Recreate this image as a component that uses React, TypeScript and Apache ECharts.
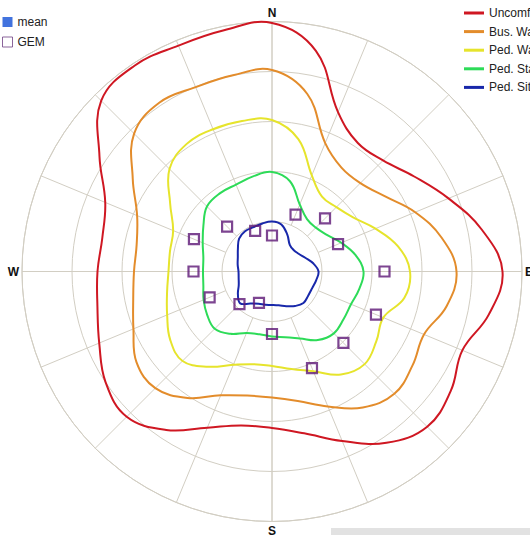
import React, { useEffect, useRef } from 'react';
import * as echarts from 'echarts';

// Directions (degrees clockwise from North) at which the contours were read
const ANGLES = [
  0, 11.25, 22.5, 33.75, 45, 56.25, 67.5, 78.75,
  90, 101.25, 112.5, 123.75, 135, 146.25, 157.5, 168.75,
  180, 191.25, 202.5, 213.75, 225, 236.25, 247.5, 258.75,
  270, 281.25, 292.5, 303.75, 315, 326.25, 337.5, 348.75,
];

const UNCOMFORTABLE = [
  4.97, 4.5, 3.45, 3.09, 3.14, 3.42, 3.82, 4.28,
  4.61, 4.42, 4.12, 4.3, 4.39, 4.12, 3.67, 3.3,
  3.13, 3.14, 3.38, 3.81, 4.11, 4.0, 3.74, 3.56,
  3.49, 3.46, 3.61, 4.15, 4.83, 4.95, 4.89, 4.92,
];
const BUS_WALKING = [
  4.03, 3.62, 2.78, 2.5, 2.5, 2.71, 3.1, 3.46,
  3.69, 3.56, 3.29, 3.38, 3.46, 3.27, 2.92, 2.64,
  2.52, 2.53, 2.68, 3.04, 3.3, 3.26, 3.0, 2.83,
  2.76, 2.76, 2.92, 3.35, 3.9, 4.06, 3.99, 4.0,
];
const PED_WALKING = [
  3.03, 2.7, 2.08, 1.8, 1.82, 1.95, 2.24, 2.57,
  2.76, 2.7, 2.41, 2.51, 2.62, 2.48, 2.16, 1.99,
  1.89, 1.89, 2.02, 2.29, 2.53, 2.45, 2.27, 2.14,
  2.07, 2.08, 2.14, 2.45, 2.9, 3.07, 3.08, 3.07,
];
const PED_STANDING = [
  1.99, 1.84, 1.45, 1.26, 1.24, 1.32, 1.5, 1.7,
  1.83, 1.78, 1.71, 1.72, 1.75, 1.65, 1.45, 1.34,
  1.3, 1.28, 1.33, 1.5, 1.62, 1.56, 1.48, 1.4,
  1.38, 1.4, 1.5, 1.65, 1.84, 1.88, 1.88, 1.94,
];
const PED_SITTING = [
  1.0, 0.96, 0.8, 0.64, 0.61, 0.64, 0.72, 0.84,
  0.93, 0.9, 0.87, 0.87, 0.89, 0.83, 0.75, 0.69,
  0.67, 0.68, 0.7, 0.77, 0.9, 0.82, 0.72, 0.68,
  0.67, 0.7, 0.74, 0.82, 0.93, 0.97, 0.96, 0.98,
];

const GEM_ANGLES = [
  0, 22.5, 45, 67.5, 90, 112.5, 135, 157.5,
  180, 202.5, 225, 247.5, 270, 292.5, 315, 337.5,
];
const GEM_RADII = [
  0.72, 1.23, 1.5, 1.43, 2.25, 2.25, 2.02, 2.09,
  1.25, 0.68, 0.92, 1.35, 1.57, 1.69, 1.27, 0.88,
];

const DIRECTION_LABELS: Record<number, string> = { 0: 'N', 90: 'E', 180: 'S', 270: 'W' };

const CONTOURS = [
  { name: 'Uncomfortable', values: UNCOMFORTABLE, color: '#cf1722' },
  { name: 'Bus. Walking', values: BUS_WALKING, color: '#e38c2b' },
  { name: 'Ped. Walking', values: PED_WALKING, color: '#e6e42c' },
  { name: 'Ped. Standing', values: PED_STANDING, color: '#2ddb58' },
  { name: 'Ped. Sitting', values: PED_SITTING, color: '#1828aa' },
];

const GRID = '#d2cec3';
const FONT = '"Liberation Sans", Arial, sans-serif';
const LINE_ICON = 'path://M0,0L20,0L20,3L0,3Z';

export default function App() {
  const ref = useRef<HTMLDivElement>(null);

  useEffect(() => {
    if (!ref.current) return;
    const chart = echarts.init(ref.current, undefined, { renderer: 'svg' });
    const center = [272, 271.5];
    const option: any = {
      animation: false,
      textStyle: { fontFamily: FONT },
      polar: [
        { center, radius: 250 },
        { center, radius: [50, 250] },
      ],
      radiusAxis: [
        {
          polarIndex: 0, type: 'value', min: 0, max: 5, interval: 1,
          axisLine: { show: false }, axisTick: { show: false }, axisLabel: { show: false },
          splitLine: { show: true, lineStyle: { color: GRID, width: 1 } },
        },
        {
          polarIndex: 1, type: 'value', min: 0, max: 5, interval: 1,
          axisLine: { show: false }, axisTick: { show: false }, axisLabel: { show: false },
          splitLine: { show: false },
        },
      ],
      angleAxis: [
        {
          polarIndex: 0, type: 'value', min: 0, max: 360, interval: 90,
          startAngle: 90, clockwise: true,
          axisLine: { show: true, lineStyle: { color: GRID, width: 1 } },
          axisTick: { show: false },
          axisLabel: {
            show: true, margin: 3, color: '#111', fontWeight: 'bold', fontSize: 12, fontFamily: FONT,
            formatter: (v: number) => DIRECTION_LABELS[v] ?? '',
          },
          splitLine: { show: true, lineStyle: { color: GRID, width: 1 } },
        },
        {
          polarIndex: 1, type: 'value', min: 0, max: 360, interval: 22.5,
          startAngle: 90, clockwise: true,
          axisLine: { show: false }, axisTick: { show: false }, axisLabel: { show: false },
          splitLine: { show: true, lineStyle: { color: GRID, width: 1 } },
        },
      ],
      legend: [
        {
          orient: 'vertical', left: 2, top: 16, padding: 0,
          itemWidth: 10, itemHeight: 10, itemGap: 8,
          textStyle: { fontSize: 12, color: '#222', fontFamily: FONT },
          data: [
            { name: 'mean', icon: 'rect' },
            { name: 'GEM', icon: 'rect', itemStyle: { color: '#ffffff', borderColor: '#6e3f82', borderWidth: 1 } },
          ],
        },
        {
          orient: 'vertical', left: 464, top: 7, padding: 0,
          itemWidth: 20, itemHeight: 12, itemGap: 6.6,
          textStyle: { fontSize: 12, color: '#222', fontFamily: FONT },
          data: CONTOURS.map((c) => ({ name: c.name, icon: LINE_ICON, itemStyle: { color: c.color, borderWidth: 0 } })),
        },
      ],
      graphic: [
        { type: 'rect', shape: { x: 331, y: 528, width: 199, height: 10 }, style: { fill: '#e2e2e2' }, silent: true },
      ],
      series: [
        ...CONTOURS.map((c) => ({
          name: c.name,
          type: 'custom',
          coordinateSystem: 'polar',
          polarIndex: 0,
          data: c.values.map((r, i) => [r, ANGLES[i]]),
          itemStyle: { color: c.color },
          z: 2,
          silent: true,
          renderItem: (params: any, api: any) => {
            if (params.dataIndex !== 0) return null;
            const points = c.values.map((r, i) => api.coord([r, ANGLES[i]]));
            return {
              type: 'polygon',
              shape: { points, smooth: 0.4 },
              style: { fill: 'none', stroke: c.color, lineWidth: 2 },
            };
          },
        })),
        {
          name: 'mean',
          type: 'scatter',
          coordinateSystem: 'polar',
          polarIndex: 0,
          data: [],
          symbol: 'rect',
          itemStyle: { color: '#1350d6' },
        },
        {
          name: 'GEM',
          type: 'scatter',
          coordinateSystem: 'polar',
          polarIndex: 0,
          symbol: 'rect',
          symbolSize: 10,
          data: GEM_RADII.map((r, i) => [r, GEM_ANGLES[i]]),
          itemStyle: { color: 'rgba(255,255,255,0)', borderColor: '#5c1675', borderWidth: 2.2 },
          z: 5,
        },
      ],
    };
    chart.setOption(option);
    return () => chart.dispose();
  }, []);

  return (
    <div
      ref={ref}
      style={{ position: 'absolute', left: 0, top: 0, width: 530, height: 535 }}
    />
  );
}
